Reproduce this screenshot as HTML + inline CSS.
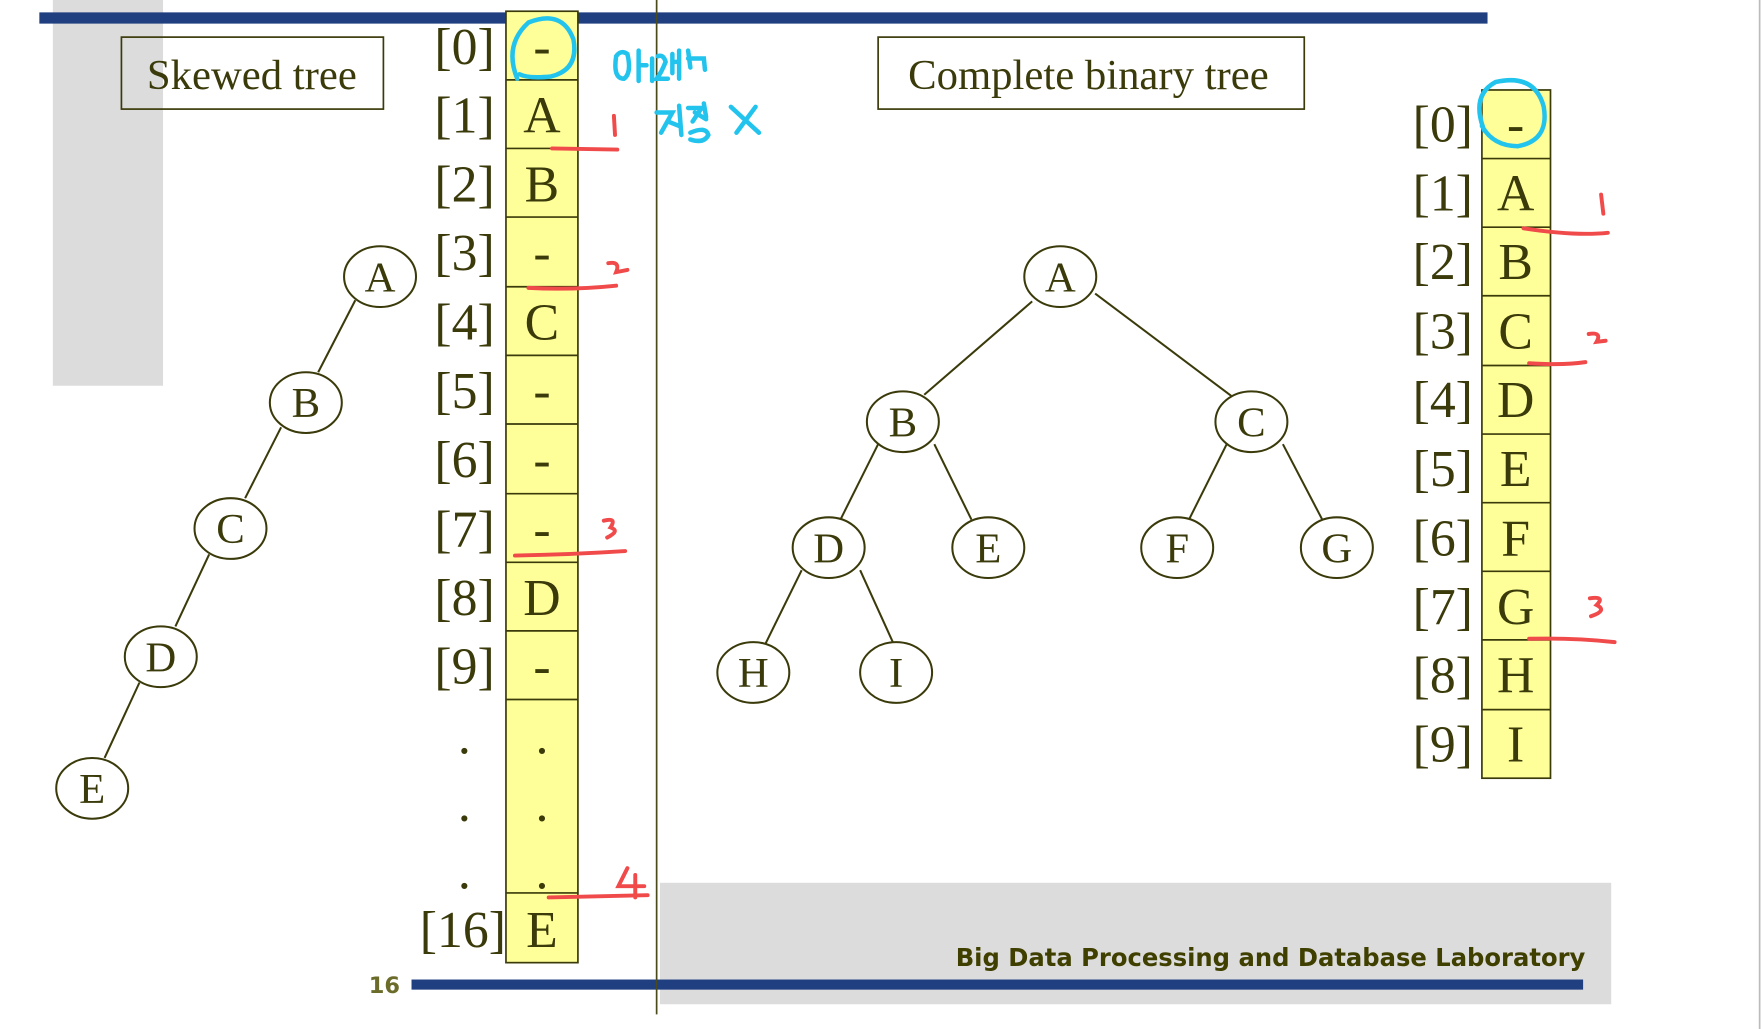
<!DOCTYPE html>
<html><head><meta charset="utf-8"><style>html,body{margin:0;padding:0;background:#fff}svg{display:block}</style></head><body>
<svg width="1763" height="1029" viewBox="0 0 1568 915" preserveAspectRatio="none" xmlns="http://www.w3.org/2000/svg" font-family="Liberation Serif, serif" fill="#3a3a0a">
<rect x="0" y="0" width="1568" height="915" fill="#fff"/>
<rect x="47" y="0" width="98" height="343" fill="#dcdcdc"/>
<rect x="587" y="785" width="846" height="108" fill="#dcdcdc"/>
<rect x="35" y="11" width="1288" height="10" fill="#1f3f80"/>
<rect x="366" y="871" width="1042" height="9" fill="#1f3f80"/>
<line x1="584" y1="0" x2="584" y2="902" stroke="#4a4a1a" stroke-width="1.5"/>
<line x1="1565" y1="0" x2="1565" y2="915" stroke="#bbb" stroke-width="1.5"/>
<g font-size="38"><rect x="108" y="33" width="233" height="64" fill="none" stroke="#3a3a0a" stroke-width="1.5"/><text x="224" y="79" text-anchor="middle">Skewed tree</text>
<rect x="781" y="33" width="379" height="64" fill="none" stroke="#3a3a0a" stroke-width="1.5"/><text x="968" y="79" text-anchor="middle">Complete binary tree</text></g>
<text x="850" y="859" textLength="560" lengthAdjust="spacingAndGlyphs" font-family="DejaVu Sans, sans-serif" font-weight="bold" font-size="22" fill="#3f3f00">Big Data Processing and Database Laboratory</text>
<text x="328" y="883" font-family="DejaVu Sans, sans-serif" font-weight="bold" font-size="20" fill="#6b6b2a">16</text>
<g fill="#ffff99" stroke="#3a3a0a" stroke-width="1.5">
<rect x="450" y="10" width="64" height="846"/>
<rect x="1318" y="80" width="61" height="612"/>
</g>
<g stroke="#3a3a0a" stroke-width="1.5">
<line x1="450" y1="71" x2="514" y2="71"/><line x1="450" y1="132" x2="514" y2="132"/><line x1="450" y1="193" x2="514" y2="193"/><line x1="450" y1="255" x2="514" y2="255"/><line x1="450" y1="316" x2="514" y2="316"/><line x1="450" y1="377" x2="514" y2="377"/><line x1="450" y1="439" x2="514" y2="439"/><line x1="450" y1="500" x2="514" y2="500"/><line x1="450" y1="561" x2="514" y2="561"/><line x1="450" y1="622" x2="514" y2="622"/><line x1="450" y1="794" x2="514" y2="794"/>
<line x1="1318" y1="141" x2="1379" y2="141"/><line x1="1318" y1="202" x2="1379" y2="202"/><line x1="1318" y1="263" x2="1379" y2="263"/><line x1="1318" y1="325" x2="1379" y2="325"/><line x1="1318" y1="386" x2="1379" y2="386"/><line x1="1318" y1="447" x2="1379" y2="447"/><line x1="1318" y1="508" x2="1379" y2="508"/><line x1="1318" y1="569" x2="1379" y2="569"/><line x1="1318" y1="631" x2="1379" y2="631"/>
</g>
<g font-size="46" text-anchor="middle">
<text x="482" y="57">-</text><text x="482" y="118">A</text><text x="482" y="179">B</text><text x="482" y="240">-</text><text x="482" y="302">C</text><text x="482" y="363">-</text><text x="482" y="424">-</text><text x="482" y="486">-</text><text x="482" y="547">D</text><text x="482" y="608">-</text>
<text x="482" y="670">.</text><text x="482" y="730">.</text><text x="482" y="790">.</text><text x="482" y="842">E</text>
<text x="413" y="670">.</text><text x="413" y="730">.</text><text x="413" y="790">.</text>
</g>
<g font-size="46" text-anchor="end">
<text x="440" y="57">[0]</text><text x="440" y="118">[1]</text><text x="440" y="179">[2]</text><text x="440" y="240">[3]</text><text x="440" y="302">[4]</text><text x="440" y="363">[5]</text><text x="440" y="424">[6]</text><text x="440" y="486">[7]</text><text x="440" y="547">[8]</text><text x="440" y="608">[9]</text><text x="450" y="842">[16]</text>
<text x="1310" y="126">[0]</text><text x="1310" y="187">[1]</text><text x="1310" y="248">[2]</text><text x="1310" y="310">[3]</text><text x="1310" y="371">[4]</text><text x="1310" y="432">[5]</text><text x="1310" y="494">[6]</text><text x="1310" y="555">[7]</text><text x="1310" y="616">[8]</text><text x="1310" y="677">[9]</text>
</g>
<g font-size="46" text-anchor="middle">
<text x="1348" y="126">-</text><text x="1348" y="187">A</text><text x="1348" y="248">B</text><text x="1348" y="310">C</text><text x="1348" y="371">D</text><text x="1348" y="432">E</text><text x="1348" y="494">F</text><text x="1348" y="555">G</text><text x="1348" y="616">H</text><text x="1348" y="677">I</text>
</g>
<g stroke="#3a3a0a" stroke-width="1.8">
<line x1="316" y1="267" x2="283" y2="331"/><line x1="250" y1="380" x2="218" y2="443"/><line x1="186" y1="493" x2="156" y2="557"/><line x1="124" y1="607" x2="93" y2="674"/>
<line x1="918" y1="268" x2="822" y2="351"/><line x1="974" y1="261" x2="1095" y2="352"/>
<line x1="781" y1="395" x2="748" y2="461"/><line x1="831" y1="395" x2="864" y2="462"/>
<line x1="1091" y1="395" x2="1058" y2="461"/><line x1="1141" y1="395" x2="1176" y2="462"/>
<line x1="713" y1="507" x2="681" y2="572"/><line x1="765" y1="507" x2="795" y2="573"/>
</g>
<g fill="#fff" stroke="#3a3a0a" stroke-width="1.8">
<ellipse cx="338" cy="246" rx="32" ry="27"/><ellipse cx="272" cy="358" rx="32" ry="27"/><ellipse cx="205" cy="470" rx="32" ry="27"/><ellipse cx="143" cy="584" rx="32" ry="27"/><ellipse cx="82" cy="701" rx="32" ry="27"/>
<ellipse cx="943" cy="246" rx="32" ry="27"/><ellipse cx="803" cy="375" rx="32" ry="27"/><ellipse cx="1113" cy="375" rx="32" ry="27"/><ellipse cx="737" cy="487" rx="32" ry="27"/><ellipse cx="879" cy="487" rx="32" ry="27"/><ellipse cx="1047" cy="487" rx="32" ry="27"/><ellipse cx="1189" cy="487" rx="32" ry="27"/><ellipse cx="670" cy="598" rx="32" ry="27"/><ellipse cx="797" cy="598" rx="32" ry="27"/>
</g>
<g font-size="38" text-anchor="middle">
<text x="338" y="259">A</text><text x="272" y="371">B</text><text x="205" y="483">C</text><text x="143" y="597">D</text><text x="82" y="714">E</text>
<text x="943" y="259">A</text><text x="803" y="388">B</text><text x="1113" y="388">C</text><text x="737" y="500">D</text><text x="879" y="500">E</text><text x="1047" y="500">F</text><text x="1189" y="500">G</text><text x="670" y="611">H</text><text x="797" y="611">I</text>
</g>
<g fill="none" stroke="#f04a4a" stroke-width="3.5" stroke-linecap="round">
<path d="M491 132 L549 133"/><path d="M546 103 L547 120"/>
<path d="M470 256 Q510 258 548 254"/><path d="M541 234 Q552 232 548 242 L558 240"/>
<path d="M458 494 Q510 493 556 490"/><path d="M537 463 Q549 460 543 469 Q552 472 540 478"/>
<path d="M488 798 Q530 797 576 796"/><path d="M558 772 L550 788 L573 788 M565 778 L565 798"/>
<path d="M1355 203 Q1400 210 1430 207"/><path d="M1424 173 L1426 190"/>
<path d="M1360 323 Q1390 325 1410 322"/><path d="M1413 297 Q1425 295 1420 304 L1428 303"/>
<path d="M1360 568 Q1400 567 1436 571"/><path d="M1414 532 Q1428 530 1420 538 Q1430 543 1415 548"/>
</g>
<g fill="none" stroke="#22c4ee" stroke-width="4" stroke-linecap="round">
<path d="M460 70 Q448 40 470 20 Q500 8 510 35 Q515 62 490 68 Q470 70 462 66"/>
<path d="M1320 116 Q1308 85 1330 73 Q1365 65 1373 95 Q1378 125 1350 130 Q1328 130 1318 112"/>
<path d="M548 50 Q545 70 555 70 Q562 65 558 48 Q552 44 548 50 M568 45 L568 72 M568 58 L575 58 M580 52 L580 72 M585 50 Q590 48 592 55 Q588 65 584 70 L594 70 M598 48 L598 65 M598 55 L604 55 M604 45 L604 70 M612 45 L614 60 M612 52 L626 52 L627 62"/>
<path d="M584 100 L598 100 L588 118 M594 108 L604 112 M604 94 L606 120 M612 96 L624 96 L616 108 M618 100 L628 106 M626 92 L628 104 M614 118 Q628 112 630 120 Q626 128 614 124 M650 95 L675 118 M672 95 L655 118"/>
</g>
</svg>
</body></html>
